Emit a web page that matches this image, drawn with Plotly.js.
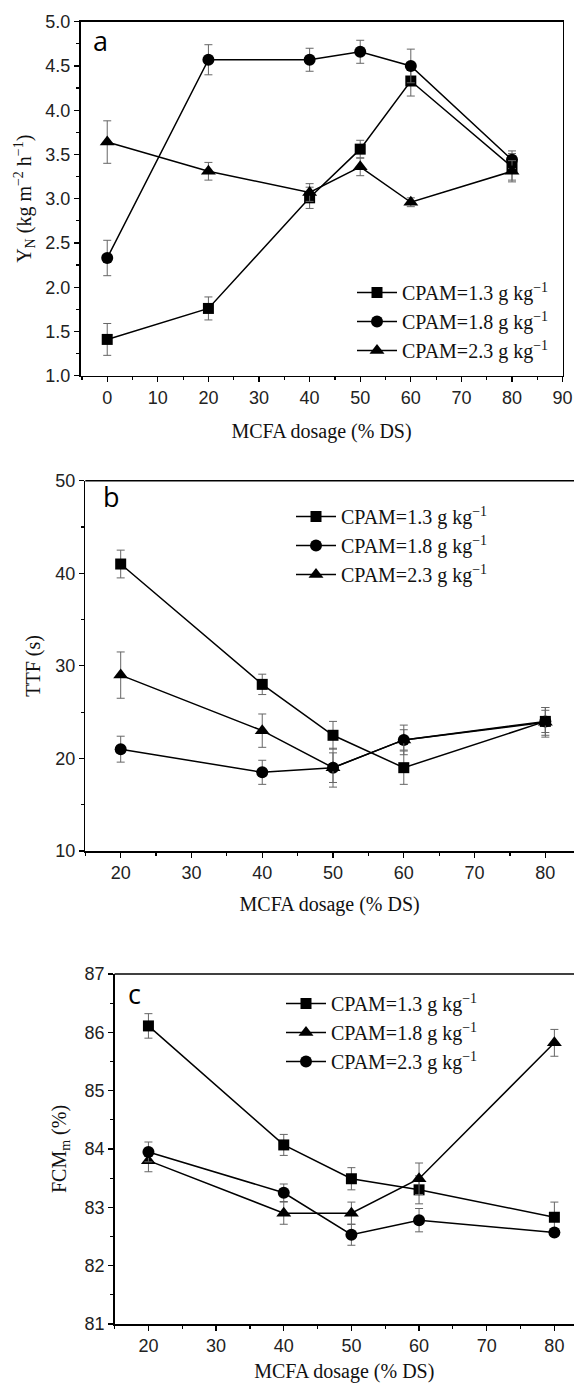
<!DOCTYPE html>
<html>
<head>
<meta charset="utf-8">
<script src="https://cdn.plot.ly/plotly-3.0.1.min.js"></script>
<style>
  html, body { margin: 0; padding: 0; background: #fff; }
  #chart { width: 574px; height: 1383px; }
</style>
</head>
<body>
<div id="chart"></div>
<script>
// ---- data ----
const seriesNames = ['CPAM=1.3 g kg<sup>−1</sup>', 'CPAM=1.8 g kg<sup>−1</sup>', 'CPAM=2.3 g kg<sup>−1</sup>'];

// (a) Y_N
const dosageA = [0, 20, 40, 50, 60, 80];
const yn13 = [1.41, 1.76, 3.01, 3.56, 4.33, 3.36];
const yn13Err = [0.18, 0.13, 0.12, 0.10, 0.17, 0.15];
const yn18 = [2.33, 4.57, 4.57, 4.66, 4.50, 3.44];
const yn18Err = [0.20, 0.17, 0.13, 0.13, 0.19, 0.10];
const yn23 = [3.64, 3.31, 3.07, 3.36, 2.96, 3.31];
const yn23Err = [0.24, 0.10, 0.10, 0.10, 0.05, 0.12];

// (b) TTF
const dosageB = [20, 40, 50, 60, 80];
const ttf13 = [41.0, 28.0, 22.5, 19.0, 24.0];
const ttf13Err = [1.5, 1.1, 1.5, 1.8, 1.2];
const ttf18 = [21.0, 18.5, 19.0, 22.0, 24.0];
const ttf18Err = [1.4, 1.3, 1.6, 1.6, 1.5];
const ttf23 = [29.0, 23.0, 19.0, 22.0, 23.9];
const ttf23Err = [2.5, 1.8, 2.1, 1.1, 1.6];

// (c) FCM_m
const dosageC = [20, 40, 50, 60, 80];
const fcm13 = [86.11, 84.07, 83.49, 83.30, 82.83];
const fcm13Err = [0.21, 0.18, 0.19, 0.24, 0.26];
const fcm18 = [83.80, 82.90, 82.90, 83.49, 85.82];
const fcm18Err = [0.19, 0.19, 0.19, 0.27, 0.23];
const fcm23 = [83.95, 83.25, 82.53, 82.78, 82.57];
const fcm23Err = [0.17, 0.15, 0.18, 0.20, 0.05];

// ---- styling helpers ----
const W = 574, H = 1383;
const px = v => v / W;           // horizontal pixel -> paper
const py = v => 1 - v / H;       // vertical pixel (from top) -> paper

const serif = 'Liberation Serif, Times New Roman, serif';
const sans = 'Liberation Sans, Arial, sans-serif';

function series(x, y, err, name, symbol, size, xa, ya, legend) {
  return {
    type: 'scatter', mode: 'lines+markers',
    x: x, y: y, name: name,
    xaxis: xa, yaxis: ya, legend: legend,
    line: { color: '#000', width: 1.5 },
    marker: { symbol: symbol, size: size, color: '#000' },
    error_y: { type: 'data', array: err, visible: true, color: '#666', thickness: 1, width: 4 },
    cliponaxis: false
  };
}

const data = [
  series(dosageA, yn13, yn13Err, seriesNames[0], 'square', 11, 'x', 'y', 'legend'),
  series(dosageA, yn18, yn18Err, seriesNames[1], 'circle', 12, 'x', 'y', 'legend'),
  series(dosageA, yn23, yn23Err, seriesNames[2], 'triangle-up', 13, 'x', 'y', 'legend'),

  series(dosageB, ttf13, ttf13Err, seriesNames[0], 'square', 11, 'x2', 'y2', 'legend2'),
  series(dosageB, ttf18, ttf18Err, seriesNames[1], 'circle', 12, 'x2', 'y2', 'legend2'),
  series(dosageB, ttf23, ttf23Err, seriesNames[2], 'triangle-up', 13, 'x2', 'y2', 'legend2'),

  series(dosageC, fcm13, fcm13Err, seriesNames[0], 'square', 11, 'x3', 'y3', 'legend3'),
  series(dosageC, fcm18, fcm18Err, seriesNames[1], 'triangle-up', 13, 'x3', 'y3', 'legend3'),
  series(dosageC, fcm23, fcm23Err, seriesNames[2], 'circle', 12, 'x3', 'y3', 'legend3')
];

function xAxis(domain, range, anchor, minorStep, standoff) {
  return {
    domain: domain, range: range, anchor: anchor,
    showgrid: false, zeroline: false,
    showline: true, linecolor: '#000', linewidth: 1.5,
    ticks: 'outside', ticklen: 5, tickwidth: 1.2, tickcolor: '#000',
    dtick: 10, tick0: 0,
    minor: { ticks: 'outside', ticklen: 3, tickwidth: 1.2, tickcolor: '#000', dtick: minorStep, tick0: 0 },
    tickfont: { family: sans, size: 18, color: '#222' },
    title: { text: 'MCFA dosage (% DS)', font: { family: serif, size: 20, color: '#111' }, standoff: standoff }
  };
}
function yAxis(domain, range, anchor, dtick, minorStep, fmt, title, standoff) {
  return {
    domain: domain, range: range, anchor: anchor,
    showgrid: false, zeroline: false,
    showline: true, linecolor: '#000', linewidth: 1.5,
    ticks: 'outside', ticklen: 5, tickwidth: 1.2, tickcolor: '#000',
    dtick: dtick, tick0: 0, tickformat: fmt,
    minor: { ticks: 'outside', ticklen: 3, tickwidth: 1.2, tickcolor: '#000', dtick: minorStep, tick0: 0 },
    tickfont: { family: sans, size: 18, color: '#222' },
    title: { text: title, font: { family: serif, size: 20, color: '#111' }, standoff: standoff }
  };
}

const domA = { x: [px(80.5), px(562.6)], y: [py(375.7), py(21.7)] };
const domB = { x: [px(85.3), 1], y: [py(851), py(480.7)] };
const domC = { x: [px(114.6), 1], y: [py(1324), py(974)] };

const legendStyle = (x, y) => ({
  x: x, y: y, xanchor: 'left', yanchor: 'top',
  bgcolor: 'rgba(0,0,0,0)', borderwidth: 0,
  font: { family: serif, size: 20, color: '#111' },
  itemwidth: 40,
  tracegroupgap: 0
});

const xa = xAxis(domA.x, [-5.28, 90], 'y', 5, 17);
const ya = yAxis(domA.y, [1, 5], 'x', 0.5, 0.25, '.1f', 'Y<sub>N</sub> (kg m<sup>−2</sup> h<sup>−1</sup>)', 8);
xa.mirror = true; ya.mirror = true;

const layout = {
  width: W, height: H,
  margin: { l: 0, r: 0, t: 0, b: 0 },
  paper_bgcolor: '#fff', plot_bgcolor: '#fff',
  showlegend: true,
  xaxis: xa,
  yaxis: ya,
  xaxis2: xAxis(domB.x, [15, 84.05], 'y2', 5, 15),
  yaxis2: yAxis(domB.y, [10, 50], 'x2', 10, 5, 'd', 'TTF (s)', 9),
  xaxis3: xAxis(domC.x, [15, 82.9], 'y3', 5, 13),
  yaxis3: yAxis(domC.y, [81, 87], 'x3', 1, 0.5, 'd', 'FCM<sub>m</sub> (%)', 12),
  legend: legendStyle(px(352), py(273)),
  legend2: legendStyle(px(291), py(497)),
  legend3: legendStyle(px(281), py(984)),
  shapes: [
    { type: 'line', xref: 'x2 domain', yref: 'y2 domain', x0: 0, x1: 1, y0: 1, y1: 1, line: { color: '#000', width: 1.5 } },
    { type: 'line', xref: 'x3 domain', yref: 'y3 domain', x0: 0, x1: 1, y0: 1, y1: 1, line: { color: '#000', width: 1.5 } }
  ],
  annotations: [
    { text: 'a', xref: 'paper', yref: 'paper', x: px(91), y: py(41), xanchor: 'left', yanchor: 'middle', showarrow: false, font: { family: 'Open Sans, sans-serif', size: 27, color: '#000' } },
    { text: 'b', xref: 'paper', yref: 'paper', x: px(101), y: py(496), xanchor: 'left', yanchor: 'middle', showarrow: false, font: { family: 'Open Sans, sans-serif', size: 27, color: '#000' } },
    { text: 'c', xref: 'paper', yref: 'paper', x: px(126), y: py(993), xanchor: 'left', yanchor: 'middle', showarrow: false, font: { family: 'Open Sans, sans-serif', size: 27, color: '#000' } }
  ]
};

Plotly.newPlot('chart', data, layout, { staticPlot: true, displayModeBar: false });
</script>
</body>
</html>
